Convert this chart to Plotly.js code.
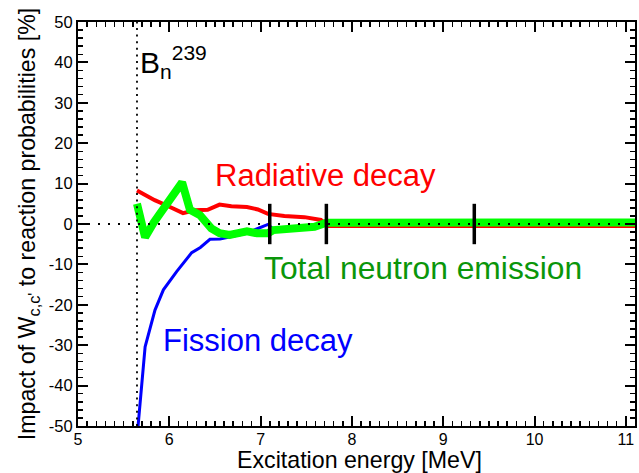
<!DOCTYPE html>
<html>
<head>
<meta charset="utf-8">
<script src="https://cdn.plot.ly/plotly-3.0.1.min.js"></script>
<style>
  html, body { margin: 0; padding: 0; background: #fff; }
  #chart { width: 639px; height: 473px; }
</style>
</head>
<body>
<div id="chart"></div>
<script>
// Neutron separation energy of 239Pu [MeV]
const separationEnergy = 5.646;

// Fission decay channel
const fissionEnergy = [5.646, 5.735, 5.843, 5.935, 6.08, 6.245, 6.34, 6.445, 6.555, 6.70, 6.85, 6.95, 7.08, 7.14, 7.34, 7.59, 7.72, 8.0, 9.0, 10.0, 11.1];
const fissionImpact = [-53, -30.4, -21.3, -16.3, -11.8, -7.1, -5.8, -3.8, -3.7, -3.1, -2.3, -1.3, -0.1, -1.3, -1.0, -0.6, 0.3, 0.3, 0.3, 0.3, 0.3];

// Radiative decay channel
const radiativeEnergy = [5.646, 5.84, 5.96, 6.15, 6.28, 6.42, 6.55, 6.68, 6.85, 6.97, 7.08, 7.26, 7.48, 7.66, 7.74, 8.0, 9.0, 10.0, 11.1];
const radiativeImpact = [8.3, 5.9, 4.7, 2.7, 3.4, 3.5, 4.8, 4.4, 4.2, 3.6, 2.5, 2.0, 1.7, 1.0, -0.5, -0.5, -0.5, -0.5, -0.5];

// Total neutron emission channel
const neutronEnergy = [5.646, 5.735, 5.83, 5.94, 6.03, 6.14, 6.226, 6.336, 6.46, 6.55, 6.66, 6.77, 6.85, 6.96, 7.08, 7.14, 7.34, 7.59, 7.72, 8.0, 9.0, 10.0, 11.1];
const neutronImpact = [5.0, -3.3, 0.4, 3.8, 7.4, 10.3, 3.5, 2.2, -1.1, -2.3, -2.7, -2.2, -1.8, -2.3, -2.3, -1.5, -1.1, -0.7, 0.3, 0.35, 0.35, 0.35, 0.35];

// Energies of the vertical markers and their half height
const markerEnergies = [7.10, 7.72, 9.34];
const markerHalfHeight = 5;

// Axis extents
const xRange = [5, 11.1];
const yRange = [-50, 50];

const fontFamily = 'Liberation Sans, Arial, Helvetica, sans-serif';

// Plot area margins in pixels
const margin = { l: 78, r: 4, t: 22, b: 47 };
const figHeight = 473;
const plotHeight = figHeight - margin.t - margin.b;

// Vertical marker segments separated by gaps
const markerX = [], markerY = [];
markerEnergies.forEach(e => {
  markerX.push(e, e, null);
  markerY.push(-markerHalfHeight, markerHalfHeight, null);
});

const traces = [
  { x: fissionEnergy, y: fissionImpact, mode: 'lines',
    line: { color: '#0000ff', width: 3 }, hoverinfo: 'skip' },
  { x: radiativeEnergy, y: radiativeImpact, mode: 'lines',
    line: { color: '#ff0000', width: 4 }, hoverinfo: 'skip' },
  { x: neutronEnergy, y: neutronImpact, mode: 'lines',
    line: { color: '#00ff00', width: 8 }, hoverinfo: 'skip' },
  // zero reference line
  { x: xRange, y: [0, 0], mode: 'lines',
    line: { color: '#000', width: 2.2, dash: '2px,8px' }, hoverinfo: 'skip' },
  // separation energy line
  { x: [separationEnergy, separationEnergy], y: yRange, mode: 'lines',
    line: { color: '#000', width: 1.8, dash: '2px,4.6px' }, hoverinfo: 'skip' },
  { x: markerX, y: markerY, mode: 'lines',
    line: { color: '#000', width: 3.5 }, hoverinfo: 'skip' }
];

const axisCommon = {
  showgrid: false,
  zeroline: false,
  showline: true,
  linecolor: '#000',
  linewidth: 2,
  mirror: 'allticks',
  ticks: 'inside',
  ticklen: 10,
  tickwidth: 2,
  tickcolor: '#000',
  tickfont: { family: fontFamily, size: 16.5, color: '#000' }
};

const layout = {
  width: 639,
  height: figHeight,
  margin: margin,
  paper_bgcolor: '#fff',
  plot_bgcolor: '#fff',
  showlegend: false,
  font: { family: fontFamily, color: '#000' },
  xaxis: Object.assign({}, axisCommon, {
    range: xRange,
    tickvals: [5, 6, 7, 8, 9, 10, 11],
    ticktext: ['5', '6', '7', '8', '9', '10', '11'],
    tickfont: { family: fontFamily, size: 16, color: '#000' },
    ticklabelstandoff: -2,
    minor: { dtick: 0.1, ticks: 'inside', ticklen: 5, tickwidth: 1.5, tickcolor: '#000' }
  }),
  yaxis: Object.assign({}, axisCommon, {
    range: yRange,
    tickvals: [-50, -40, -30, -20, -10, 0, 10, 20, 30, 40, 50],
    ticktext: ['-50', '-40', '-30', '-20', '-10', '0', '10', '20', '30', '40', '50'],
    minor: { dtick: 2, ticks: 'inside', ticklen: 5, tickwidth: 1.5, tickcolor: '#000' },
    title: { text: "Impact of W<sub>c,c'</sub> to reaction probabilities [%]", standoff: 7,
             font: { family: fontFamily, size: 23.2, color: '#000' } }
  }),
  annotations: [
    // x axis title, set along the bottom edge of the figure
    { x: 0.506, y: -margin.b / plotHeight, xref: 'paper', yref: 'paper',
      xanchor: 'center', yanchor: 'bottom', yshift: -2,
      text: 'Excitation energy [MeV]', showarrow: false,
      font: { family: fontFamily, size: 23.2, color: '#000' } },
    { x: 6.48, y: 12.1, xref: 'x', yref: 'y', xanchor: 'left', yanchor: 'middle',
      text: 'Radiative decay', showarrow: false,
      font: { family: fontFamily, size: 31, color: '#ff0000' } },
    { x: 7.015, y: -11.0, xref: 'x', yref: 'y', xanchor: 'left', yanchor: 'middle',
      text: 'Total neutron emission', showarrow: false,
      font: { family: fontFamily, size: 31.8, color: '#0a960a' } },
    { x: 5.91, y: -28.8, xref: 'x', yref: 'y', xanchor: 'left', yanchor: 'middle',
      text: 'Fission decay', showarrow: false,
      font: { family: fontFamily, size: 31, color: '#0000ff' } },
    { x: 5.655, y: 40.0, xref: 'x', yref: 'y', xanchor: 'left', yanchor: 'middle',
      text: 'B<sub>n</sub><sup>239</sup>', showarrow: false,
      font: { family: fontFamily, size: 30, color: '#000' } }
  ]
};

Plotly.newPlot('chart', traces, layout, { staticPlot: true, displayModeBar: false });
</script>
</body>
</html>
